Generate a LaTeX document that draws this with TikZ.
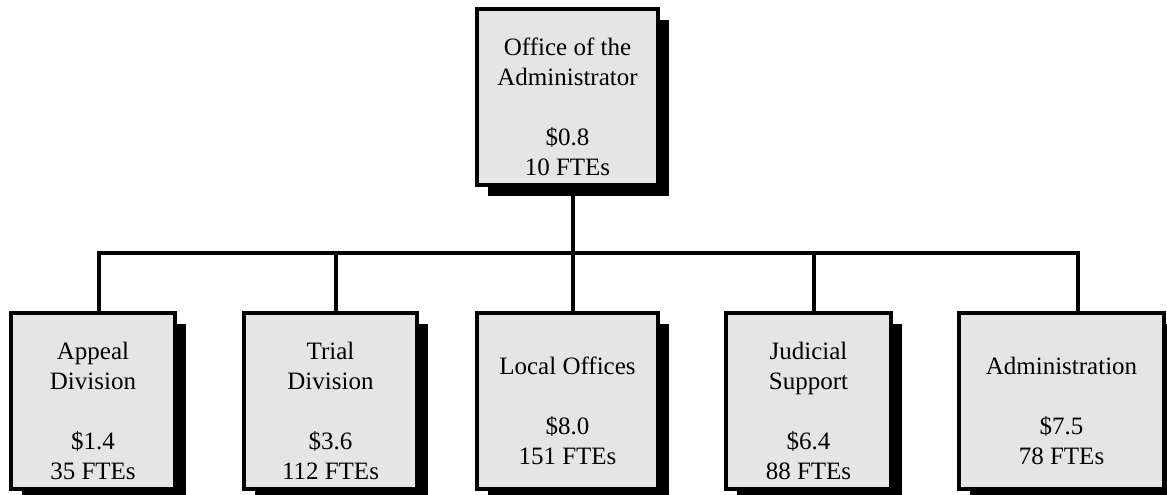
\documentclass[tikz,border=0pt]{standalone}
\usepackage{fontspec}
\setmainfont{Liberation Serif}
\usetikzlibrary{positioning,shadows}

\definecolor{boxgray}{gray}{0.9}
\newcommand{\lift}{\rule{0pt}{37pt}}

\tikzset{
  orgbox/.style={draw, line width=4pt, fill=boxgray, inner sep=0pt,
    minimum height=176pt, align=center,
    font=\fontsize{25}{30}\selectfont,
    drop shadow={shadow xshift=11pt, shadow yshift=-11pt, fill=black, opacity=1}},
  link/.style={line width=4pt, line join=miter},
}

\begin{document}
\begin{tikzpicture}[x=1pt, y=-1pt]
  \useasboundingbox (0,0) rectangle (1167,495);

  \coordinate (bus) at (573,253);

  % head office
  \node [orgbox, minimum width=181pt] (head) at (567.5,97)
    {\lift Office of the\\Administrator\\[30pt]\$0.8\\10 FTEs};

  % divisions
  \node [orgbox, minimum width=164pt] (appeal) at (93,401)
    {\lift Appeal\\Division\\[30pt]\$1.4\\35 FTEs};
  \node [orgbox, minimum width=173pt, right=65pt of appeal] (trial)
    {\lift Trial\\Division\\[30pt]\$3.6\\112 FTEs};
  \node [orgbox, minimum width=181pt, right=56pt of trial] (local)
    {\lift Local Offices\\[30pt]\$8.0\\151 FTEs};
  \node [orgbox, minimum width=165pt, right=64pt of local] (judicial)
    {\lift Judicial\\Support\\[30pt]\$6.4\\88 FTEs};
  \node [orgbox, minimum width=205pt, right=64pt of judicial] (admin)
    {\lift Administration\\[30pt]\$7.5\\78 FTEs};

  % connectors
  \draw [link] ([xshift=5.5pt]head.south) -- (bus);
  \draw [link] ([xshift=6pt]appeal.north) |- (bus) -| ([xshift=16.5pt]admin.north);
  \draw [link] ([xshift=5.5pt]trial.north) |- (bus);
  \draw [link] ([xshift=5.5pt]local.north) -- (bus);
  \draw [link] ([xshift=5.5pt]judicial.north) |- (bus);
\end{tikzpicture}
\end{document}
